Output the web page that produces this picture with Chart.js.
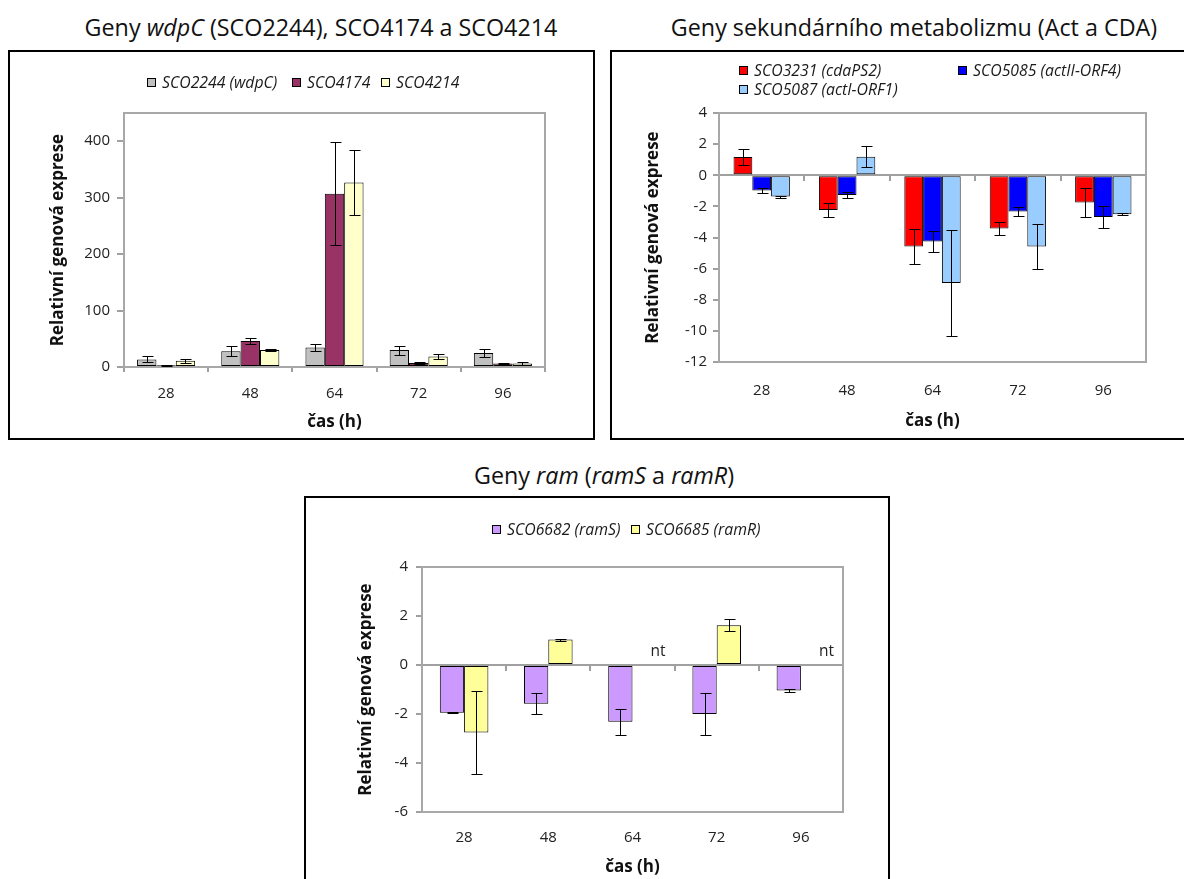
<!DOCTYPE html>
<html lang="cs">
<head>
<meta charset="utf-8">
<title>Relativní genová exprese</title>
<script src="https://cdn.jsdelivr.net/npm/chart.js@4.4.1/dist/chart.umd.min.js"></script>
<style>
html, body { margin: 0; padding: 0; background: #fff; }
body { position: relative; width: 1184px; height: 879px; overflow: hidden; font-family: "Open Sans", sans-serif; color: #111; }
.title { position: absolute; width: 640px; text-align: center; font-size: 23.3px; line-height: 30px; white-space: nowrap; }
.box { position: absolute; border: 2px solid #000; box-sizing: border-box; }
canvas { position: absolute; }
.lg { position: absolute; display: flex; align-items: center; height: 18px; font-size: 15.8px; font-style: italic; color: #1a1a1a; white-space: nowrap; }
.lg .sw { display: inline-block; width: 9px; height: 9px; border: 1px solid #000; box-sizing: border-box; margin-right: 6px; }
</style>
</head>
<body>
<div class="title" style="left:1px;top:12px">Geny <i>wdpC</i> (SCO2244), SCO4174 a SCO4214</div>
<div class="title" style="left:594px;top:12px">Geny sekundárního metabolizmu (Act a CDA)</div>
<div class="title" style="left:284px;top:460px">Geny <i>ram</i> (<i>ramS</i> a <i>ramR</i>)</div>

<div class="box" style="left:8px;top:50px;width:587px;height:390px"></div>
<div class="box" style="left:610px;top:50px;width:590px;height:390px"></div>
<div class="box" style="left:304px;top:496px;width:586px;height:420px"></div>

<canvas id="c1" width="583" height="386" style="left:10px;top:52px"></canvas>
<canvas id="c2" width="570" height="386" style="left:612px;top:52px"></canvas>
<canvas id="c3" width="582" height="390" style="left:306px;top:498px"></canvas>

<script>
// Sampling times (h)
const HOURS = ['28', '48', '64', '72', '96'];
const X_TITLE = 'čas (h)';
const Y_TITLE = 'Relativní genová exprese';

// wdpC, SCO4174, SCO4214
const NAMES_A = ['SCO2244 (wdpC)', 'SCO4174', 'SCO4214'];
const SCO2244 = [13.5, 28, 34.5, 30, 25];
const SCO2244_ERR = [5.5, 9, 7, 8, 7.5];
const SCO4174 = [3, 46, 307, 7, 6];
const SCO4174_ERR = [0.5, 5, 91, 1, 0.5];
const SCO4214 = [11, 30, 327, 18.5, 6];
const SCO4214_ERR = [3.5, 2, 57, 4.3, 2.5];
const TICKS_A = [0, 100, 200, 300, 400];

// secondary metabolism (Act and CDA)
const NAMES_B = ['SCO3231 (cdaPS2)', 'SCO5085 (actII-ORF4)', 'SCO5087 (actI-ORF1)'];
const SCO3231 = [1.17, -2.24, -4.58, -3.42, -1.75];
const SCO3231_ERR = [0.54, 0.46, 1.12, 0.42, 0.93];
const SCO5085 = [-0.98, -1.27, -4.25, -2.33, -2.68];
const SCO5085_ERR = [0.13, 0.2, 0.68, 0.29, 0.71];
const SCO5087 = [-1.37, 1.19, -6.93, -4.58, -2.5];
const SCO5087_ERR = [0.06, 0.67, 3.42, 1.46, 0.06];
const TICKS_B = [4, 2, 0, -2, -4, -6, -8, -10, -12];

// ram genes (ramS, ramR); nt = not tested
const NAMES_C = ['SCO6682 (ramS)', 'SCO6685 (ramR)'];
const SCO6682 = [-1.95, -1.58, -2.32, -2.0, -1.04];
const SCO6682_ERR = [0.02, 0.43, 0.52, 0.86, 0.06];
const SCO6685 = [-2.76, 1.04, null, 1.62, null];
const SCO6685_ERR = [1.68, 0.04, null, 0.25, null];
const SCO6685_NOTE = [null, null, 'nt', null, 'nt'];
const TICKS_C = [4, 2, 0, -2, -4, -6];

const PALETTE_A = ['#C0C0C0', '#993366', '#FFFFCC'];
const PALETTE_B = ['#FF0000', '#0000FF', '#99CCFF'];
const PALETTE_C = ['#CC99FF', '#FFFF99'];
const AXIS_GREY = '#a0a0a0';
const AXIS_TITLE_SIZE = 17;

Chart.defaults.font.family = '"Open Sans", sans-serif';
Chart.defaults.font.size = 15;
Chart.defaults.color = '#222';

// Panel geometry in page pixels: canvas rect, plot area, axis title centres
const PANEL_A = { cv: { x: 10, y: 52, w: 583, h: 386 }, area: { l: 124, t: 113, r: 545, b: 367 }, yTitleX: 58, xTitleY: 422 };
const PANEL_B = { cv: { x: 612, y: 52, w: 570, h: 386 }, area: { l: 719, t: 113, r: 1146, b: 362 }, yTitleX: 653, xTitleY: 421 };
const PANEL_C = { cv: { x: 306, y: 498, w: 582, h: 390 }, area: { l: 422, t: 567, r: 843, b: 812 }, yTitleX: 366, xTitleY: 867 };

function fitFrame(P) {
  const half = AXIS_TITLE_SIZE * 1.2 / 2, pad = 4;
  const padL = P.yTitleX - P.cv.x - pad - half;
  const padB = P.cv.y + P.cv.h - P.xTitleY - pad - half;
  return {
    padding: { left: padL, top: P.area.t - P.cv.y, right: P.cv.x + P.cv.w - P.area.r, bottom: padB },
    yWidth: P.area.l - P.cv.x - padL,
    xHeight: P.cv.y + P.cv.h - padB - P.area.b
  };
}

// grey frame around the plot area
const plotFrame = {
  id: 'plotFrame',
  beforeDatasetsDraw(chart) {
    const a = chart.chartArea, ctx = chart.ctx;
    ctx.save();
    ctx.strokeStyle = '#a8a8a8';
    ctx.lineWidth = 2;
    ctx.strokeRect(Math.round(a.left), Math.round(a.top), Math.round(a.right - a.left), Math.round(a.bottom - a.top));
    ctx.restore();
  }
};

// symmetric error bars from each dataset's `errors`
const errorBars = {
  id: 'errorBars',
  afterDatasetsDraw(chart) {
    const ctx = chart.ctx, ys = chart.scales.y;
    ctx.save();
    ctx.strokeStyle = '#000';
    ctx.lineWidth = 1;
    chart.data.datasets.forEach((ds, di) => {
      if (!ds.errors) return;
      const meta = chart.getDatasetMeta(di);
      meta.data.forEach((bar, i) => {
        const v = ds.data[i], e = ds.errors[i];
        if (v == null || e == null) return;
        const x = Math.round(bar.x) + 0.5;
        const y1 = Math.round(ys.getPixelForValue(v + e)) + 0.5;
        const y2 = Math.round(ys.getPixelForValue(v - e)) + 0.5;
        ctx.beginPath();
        ctx.moveTo(x, y1); ctx.lineTo(x, y2);
        ctx.moveTo(x - 5, y1); ctx.lineTo(x + 6, y1);
        ctx.moveTo(x - 5, y2); ctx.lineTo(x + 6, y2);
        ctx.stroke();
      });
    });
    ctx.restore();
  }
};

// "nt" marks where a series has no measurement
const notes = {
  id: 'notes',
  afterDatasetsDraw(chart) {
    const ctx = chart.ctx, ys = chart.scales.y;
    ctx.save();
    ctx.font = '15.5px "Open Sans", sans-serif';
    ctx.fillStyle = '#222';
    ctx.textAlign = 'center';
    ctx.textBaseline = 'bottom';
    chart.data.datasets.forEach((ds, di) => {
      if (!ds.notes) return;
      const meta = chart.getDatasetMeta(di);
      ds.notes.forEach((txt, i) => {
        if (!txt) return;
        const bar = meta.data[i];
        ctx.fillText(txt, bar.x + bar.width * 0.55, ys.getPixelForValue(0) - 6);
      });
    });
    ctx.restore();
  }
};

function bars(labels, series, errors, palette, pct) {
  return series.map((data, k) => ({
    label: labels[k],
    data: data,
    errors: errors[k],
    backgroundColor: palette[k],
    borderColor: '#000',
    borderWidth: 1,
    borderSkipped: false,
    categoryPercentage: pct,
    barPercentage: 1
  }));
}

function options(P, cfg) {
  const L = fitFrame(P);
  const axisTitle = (text) => ({ display: true, text, color: '#111', font: { size: AXIS_TITLE_SIZE, weight: 'bold' }, padding: { top: 4, bottom: 4 } });
  const scales = {
    x: {
      type: 'category', position: 'bottom', offset: true,
      grid: cfg.zeroAxis
        ? { display: false, drawTicks: false, tickLength: 0 }
        : { display: true, offset: true, drawOnChartArea: false, tickLength: 5, color: AXIS_GREY, lineWidth: 2 },
      border: cfg.zeroAxis ? { display: false } : { display: true, color: AXIS_GREY, width: 2 },
      ticks: { padding: cfg.xPad, color: '#222', maxRotation: 0, autoSkip: false },
      title: axisTitle(X_TITLE),
      afterFit: (s) => { s.height = L.xHeight; },
      z: cfg.zeroAxis ? 0 : 1
    },
    y: {
      type: 'linear', min: cfg.min, max: cfg.max,
      grid: { drawOnChartArea: false, tickLength: cfg.yTick, color: AXIS_GREY, lineWidth: 2 },
      border: { color: AXIS_GREY, width: 2 },
      ticks: { color: '#222', padding: cfg.yPad, callback: (v) => String(v) },
      afterBuildTicks: (s) => { s.ticks = cfg.ticks.map((v) => ({ value: v })); },
      title: axisTitle(Y_TITLE),
      afterFit: (s) => { s.width = L.yWidth; }
    }
  };
  if (cfg.zeroAxis) {
    // category axis crossing at y = 0 with its tick marks between categories
    scales.x0 = {
      axis: 'x', type: 'category', position: { y: 0 }, offset: true,
      grid: { offset: true, drawOnChartArea: false, tickLength: 5, color: AXIS_GREY, lineWidth: 2 },
      border: { color: AXIS_GREY, width: 2 },
      ticks: { display: false },
      z: 1
    };
  }
  return {
    responsive: false, animation: false, devicePixelRatio: 1,
    layout: { padding: L.padding },
    plugins: { legend: { display: false }, title: { display: false }, tooltip: { enabled: false } },
    scales
  };
}

function legend(labels, palette, spots) {
  labels.forEach((label, k) => {
    const el = document.createElement('div');
    el.className = 'lg';
    el.style.left = spots[k][0] + 'px';
    el.style.top = (spots[k][1] - 9) + 'px';
    const sw = document.createElement('span');
    sw.className = 'sw';
    sw.style.background = palette[k];
    el.appendChild(sw);
    el.appendChild(document.createTextNode(label));
    document.body.appendChild(el);
  });
}

new Chart(document.getElementById('c1'), {
  type: 'bar',
  data: { labels: HOURS, datasets: bars(NAMES_A, [SCO2244, SCO4174, SCO4214], [SCO2244_ERR, SCO4174_ERR, SCO4214_ERR], PALETTE_A, 0.69) },
  options: options(PANEL_A, { min: 0, max: 450, ticks: TICKS_A, zeroAxis: false, xPad: 13, yTick: 7, yPad: 7 }),
  plugins: [plotFrame, errorBars]
});

new Chart(document.getElementById('c2'), {
  type: 'bar',
  data: { labels: HOURS, datasets: bars(NAMES_B, [SCO3231, SCO5085, SCO5087], [SCO3231_ERR, SCO5085_ERR, SCO5087_ERR], PALETTE_B, 0.66) },
  options: options(PANEL_B, { min: -12, max: 4, ticks: TICKS_B, zeroAxis: true, xPad: 19.5, yTick: 6, yPad: 6 }),
  plugins: [plotFrame, errorBars]
});

const ramSets = bars(NAMES_C, [SCO6682, SCO6685], [SCO6682_ERR, SCO6685_ERR], PALETTE_C, 0.577);
ramSets[1].notes = SCO6685_NOTE;
new Chart(document.getElementById('c3'), {
  type: 'bar',
  data: { labels: HOURS, datasets: ramSets },
  options: options(PANEL_C, { min: -6, max: 4, ticks: TICKS_C, zeroAxis: true, xPad: 17, yTick: 6, yPad: 8 }),
  plugins: [plotFrame, errorBars, notes]
});

legend(NAMES_A, PALETTE_A, [[147, 82], [292, 82], [381, 82]]);
legend(NAMES_B, PALETTE_B, [[739, 70], [958, 70], [739, 89]]);
legend(NAMES_C, PALETTE_C, [[492, 529], [631, 529]]);
</script>
</body>
</html>
